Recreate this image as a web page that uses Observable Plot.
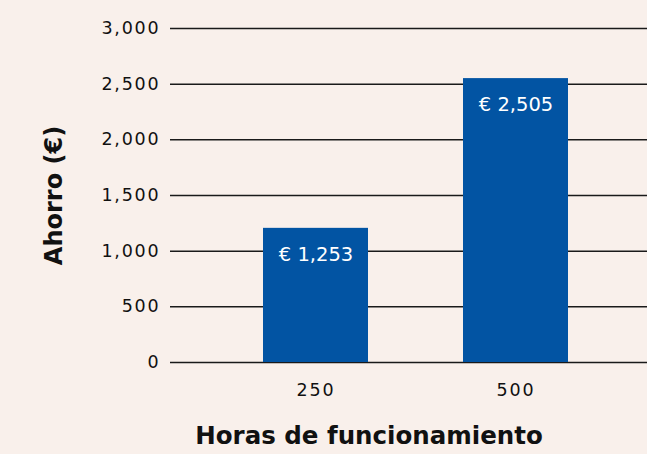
<!DOCTYPE html>
<html>
<head>
<meta charset="utf-8">
<script src="https://cdn.jsdelivr.net/npm/d3@7"></script>
<script src="https://cdn.jsdelivr.net/npm/@observablehq/plot@0.6"></script>
<style>
  html, body { margin: 0; padding: 0; background: #f9f0eb; }
  #chart svg { display: block; }
  .ticks text { letter-spacing: 1.8px; }
</style>
</head>
<body>
<div id="chart"></div>
<script>
const hours = ["250", "500"];
const barHeights = [1205, 2550];
const savings = [1253, 2505];
const yTicks = [0, 500, 1000, 1500, 2000, 2500, 3000];
const xTitle = "Horas de funcionamiento";
const yTitle = "Ahorro (€)";

const data = hours.map((h, i) => ({hours: h, bar: barHeights[i], saving: savings[i]}));
const fmt = d3.format(",");
const font = "DejaVu Sans, sans-serif";

const chart = Plot.plot({
  width: 647,
  height: 454,
  marginLeft: 170,
  marginRight: 0,
  marginTop: 28,
  marginBottom: 92,
  style: {background: "#f9f0eb", fontFamily: font, fontSize: "17.5px", color: "#111"},
  x: {domain: hours, paddingInner: 0.475, paddingOuter: 0.43, align: 0.54, label: null},
  y: {domain: [0, 3000], label: null},
  marks: [
    Plot.ruleY(yTicks, {stroke: "#1a1a1a", strokeWidth: 1.5}),
    Plot.barY(data, {x: "hours", y: "bar", fill: "#0254a3"}),
    Plot.text(data, {x: "hours", y: "bar", text: d => "€ " + fmt(d.saving), fill: "white", dy: 26, fontSize: 19.5}),
    Plot.axisY({ticks: yTicks, tickSize: 0, tickPadding: 10, tickFormat: fmt, label: null, fontSize: 17.5, className: "ticks"}),
    Plot.axisX({tickSize: 0, tickPadding: 21, label: null, fontSize: 17.5, className: "ticks"}),
    Plot.text([yTitle], {frameAnchor: "left", textAnchor: "middle", text: d => d, rotate: -90, dx: -116, fontWeight: "bold", fontSize: 24}),
    Plot.text([xTitle], {frameAnchor: "bottom", textAnchor: "middle", text: d => d, dx: -40, dy: 81, fontWeight: "bold", fontSize: 24.5})
  ]
});
document.getElementById("chart").append(chart);
</script>
</body>
</html>
